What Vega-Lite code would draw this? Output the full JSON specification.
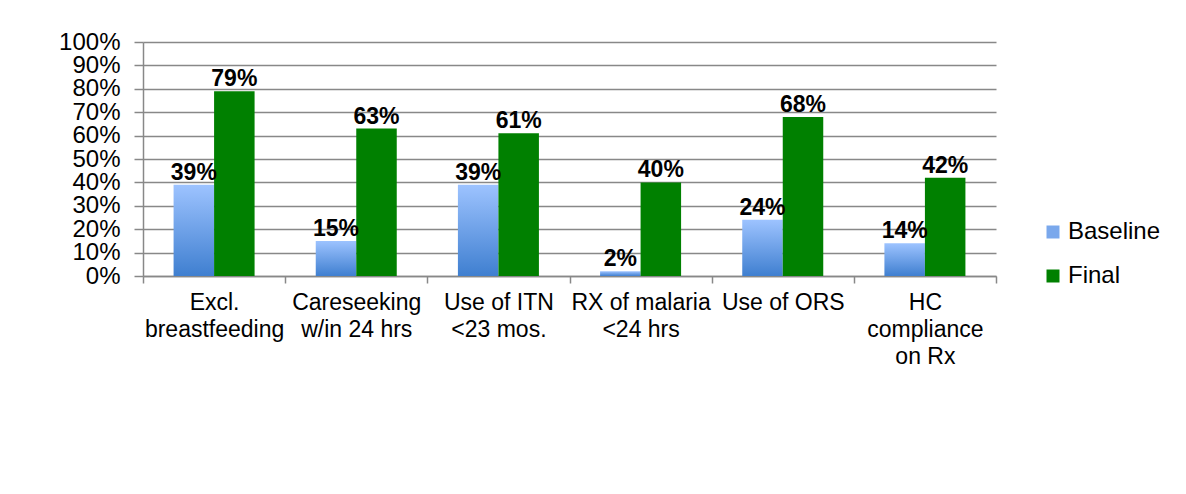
{
  "$schema": "https://vega.github.io/schema/vega-lite/v6.json",
  "width": 853,
  "height": 234,
  "autosize": {"type": "none"},
  "padding": {"left": 143, "top": 42, "right": 190, "bottom": 218},
  "background": "white",
  "config": {"view": {"stroke": null}, "font": "Liberation Sans"},
  "data": {
    "values": [
      {"cat": "Excl.|breastfeeding", "series": "Baseline", "value": 0.39},
      {"cat": "Excl.|breastfeeding", "series": "Final", "value": 0.79},
      {"cat": "Careseeking|w/in 24 hrs", "series": "Baseline", "value": 0.15},
      {"cat": "Careseeking|w/in 24 hrs", "series": "Final", "value": 0.63},
      {"cat": "Use of ITN|<23 mos.", "series": "Baseline", "value": 0.39},
      {"cat": "Use of ITN|<23 mos.", "series": "Final", "value": 0.61},
      {"cat": "RX of malaria|<24 hrs", "series": "Baseline", "value": 0.02},
      {"cat": "RX of malaria|<24 hrs", "series": "Final", "value": 0.40},
      {"cat": "Use of ORS", "series": "Baseline", "value": 0.24},
      {"cat": "Use of ORS", "series": "Final", "value": 0.68},
      {"cat": "HC|compliance|on Rx", "series": "Baseline", "value": 0.14},
      {"cat": "HC|compliance|on Rx", "series": "Final", "value": 0.42}
    ]
  },
  "encoding": {
    "x": {
      "field": "cat",
      "type": "nominal",
      "sort": null,
      "scale": {"paddingInner": 0, "paddingOuter": 0},
      "axis": {
        "title": null,
        "labelAngle": 0,
        "labelExpr": "split(datum.label, '|')",
        "labelFontSize": 23,
        "labelColor": "#000000",
        "labelLineHeight": 27,
        "labelPadding": 8,
        "labelBaseline": "top",
        "labelLimit": 200,
        "labelOverlap": false,
        "tickBand": "extent",
        "tickColor": "#888888",
        "tickWidth": 1.5,
        "tickSize": 7,
        "domainColor": "#888888",
        "domainWidth": 1.5,
        "grid": false
      }
    },
    "xOffset": {
      "field": "series",
      "sort": ["Baseline", "Final"],
      "scale": {"paddingInner": 0, "paddingOuter": 0.755}
    },
    "y": {
      "field": "value",
      "type": "quantitative",
      "scale": {"domain": [0, 1]},
      "axis": {
        "title": null,
        "format": ".0%",
        "values": [0, 0.1, 0.2, 0.3, 0.4, 0.5, 0.6, 0.7, 0.8, 0.9, 1],
        "labelFontSize": 24,
        "labelColor": "#000000",
        "labelPadding": 14,
        "labelOverlap": false,
        "labelBound": false,
        "labelFlush": false,
        "grid": true,
        "gridColor": "#888888",
        "gridWidth": 1.5,
        "tickColor": "#888888",
        "tickWidth": 1.5,
        "tickSize": 9,
        "domainColor": "#888888",
        "domainWidth": 1.5
      }
    }
  },
  "layer": [
    {
      "mark": {"type": "bar"},
      "encoding": {
        "fill": {
          "condition": {
            "test": "datum.series === 'Baseline'",
            "value": {
              "gradient": "linear",
              "x1": 0, "y1": 0, "x2": 0, "y2": 1,
              "stops": [
                {"offset": 0, "color": "#9DC3FF"},
                {"offset": 1, "color": "#3F7FD0"}
              ]
            }
          },
          "field": "series",
          "type": "nominal",
          "scale": {"domain": ["Baseline", "Final"], "range": ["#7AA8EC", "#008000"]},
          "legend": {
            "title": null,
            "orient": "none",
            "legendX": 898,
            "legendY": 178,
            "symbolType": "square",
            "symbolSize": 169,
            "symbolStrokeWidth": 0,
            "labelFontSize": 24,
            "labelColor": "#000000",
            "labelOffset": 3,
            "rowPadding": 20,
            "encode": {
              "symbols": {
                "update": {
                  "fill": {"signal": "datum.value === 'Baseline' ? {gradient: 'linear', x1: 0, y1: 0, x2: 0, y2: 1, stops: [{offset: 0, color: '#A8CBFF'}, {offset: 1, color: '#4F8BD8'}]} : '#008000'"}
                }
              }
            }
          }
        }
      }
    },
    {
      "mark": {
        "type": "text",
        "fontSize": 23,
        "fontWeight": "bold",
        "color": "#000000",
        "baseline": "alphabetic",
        "align": "center",
        "dy": -5
      },
      "encoding": {
        "text": {"field": "value", "type": "quantitative", "format": ".0%"}
      }
    }
  ]
}
